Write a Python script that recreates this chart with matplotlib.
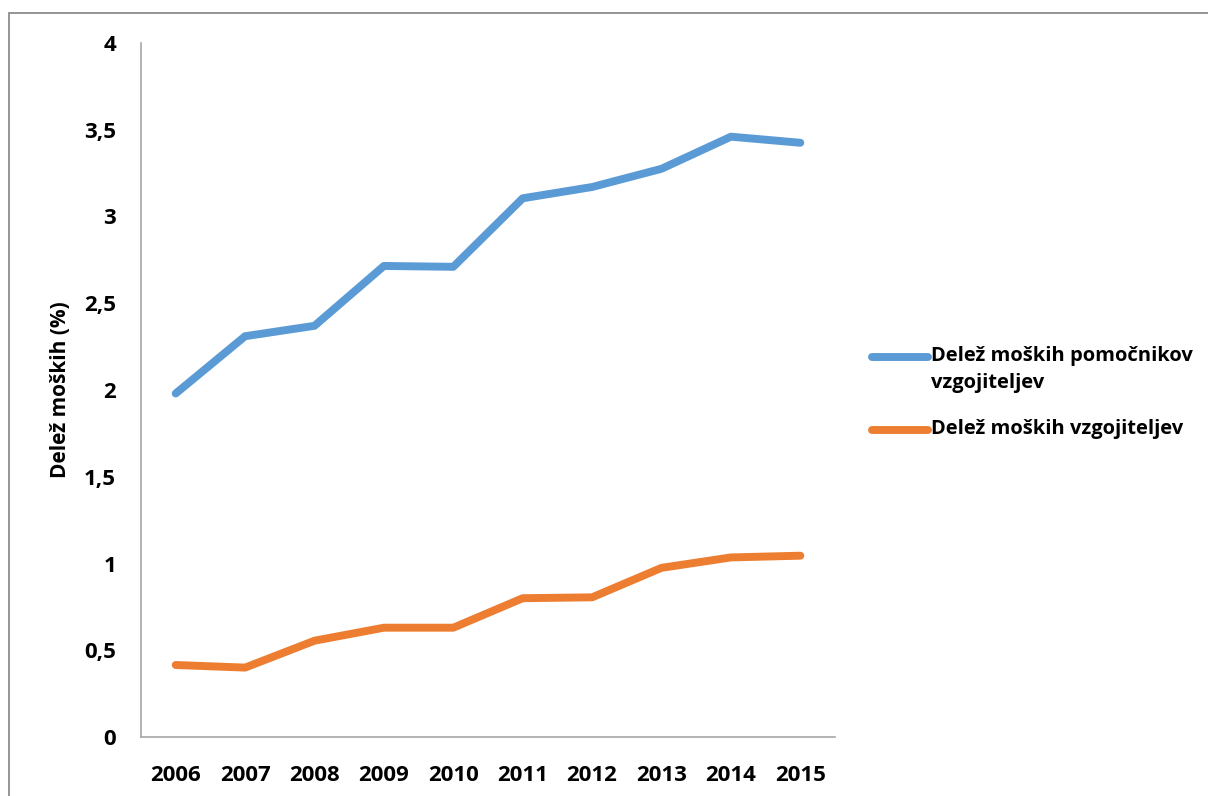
import matplotlib.pyplot as plt
from matplotlib.lines import Line2D
from matplotlib.patches import Rectangle
from matplotlib.ticker import FuncFormatter, MultipleLocator

plt.rcParams["font.family"] = ["Open Sans", "DejaVu Sans"]
plt.rcParams["font.weight"] = "bold"

leta = ["2006", "2007", "2008", "2009", "2010",
        "2011", "2012", "2013", "2014", "2015"]
pomocniki = [1.98, 2.31, 2.37, 2.715, 2.71, 3.105, 3.17, 3.275, 3.46, 3.425]
vzgojitelji = [0.415, 0.40, 0.555, 0.63, 0.63, 0.80, 0.805, 0.975, 1.035, 1.045]

ime_pomocniki = "Delež moških pomočnikov\nvzgojiteljev"
ime_vzgojitelji = "Delež moških vzgojiteljev"

modra = "#5B9BD5"
oranzna = "#ED7D31"
siva = "#A6A6A6"
debelina = 5.7

W, H = 1208, 796
fig = plt.figure(figsize=(W / 100, H / 100), dpi=100)
ax = fig.add_axes([141 / W, 1 - 737 / H, (835 - 141) / W, (737 - 43) / H])

x = range(len(leta))
ax.plot(x, pomocniki, color=modra, lw=debelina, solid_capstyle="round",
        solid_joinstyle="round")
ax.plot(x, vzgojitelji, color=oranzna, lw=debelina, solid_capstyle="round",
        solid_joinstyle="round")

ax.set_xlim(-0.5, len(leta) - 0.5)
ax.set_ylim(0, 4)
ax.set_xticks(list(x))
ax.set_xticklabels(leta)
ax.yaxis.set_major_locator(MultipleLocator(0.5))
ax.yaxis.set_major_formatter(
    FuncFormatter(lambda v, p: ("%g" % v).replace(".", ",")))
ax.tick_params(axis="both", length=0, labelsize=16)
ax.tick_params(axis="y", pad=18)
ax.tick_params(axis="x", pad=20)
for lbl in ax.get_xticklabels() + ax.get_yticklabels():
    lbl.set_fontweight("bold")
for s in ["top", "right"]:
    ax.spines[s].set_visible(False)
for s in ["left", "bottom"]:
    ax.spines[s].set_color(siva)
    ax.spines[s].set_linewidth(1.2)
ax.set_ylabel("Delež moških (%)", fontsize=15, fontweight="bold")
ax.yaxis.set_label_coords(-70 / 694, 0.5)

# legenda na desni
def fx(px):
    return px / W

def fy(py):
    return 1 - py / H

for barva, yy, besedilo in [(modra, 357, ime_pomocniki),
                            (oranzna, 430, ime_vzgojitelji)]:
    fig.add_artist(Line2D([fx(872), fx(928)], [fy(yy), fy(yy)], color=barva,
                          lw=debelina, solid_capstyle="round",
                          transform=fig.transFigure))
    fig.text(fx(931), fy(yy - 11), besedilo, fontsize=14.5,
             fontweight="bold", va="top", ha="left", linespacing=1.45)

# okvir grafikona
fig.add_artist(Rectangle((fx(9), -0.1), 1.2, fy(13) + 0.1, fill=False,
                         edgecolor="#8C8C8C", lw=1.3,
                         transform=fig.transFigure))

fig.savefig("out.png", dpi=100, facecolor="white")
